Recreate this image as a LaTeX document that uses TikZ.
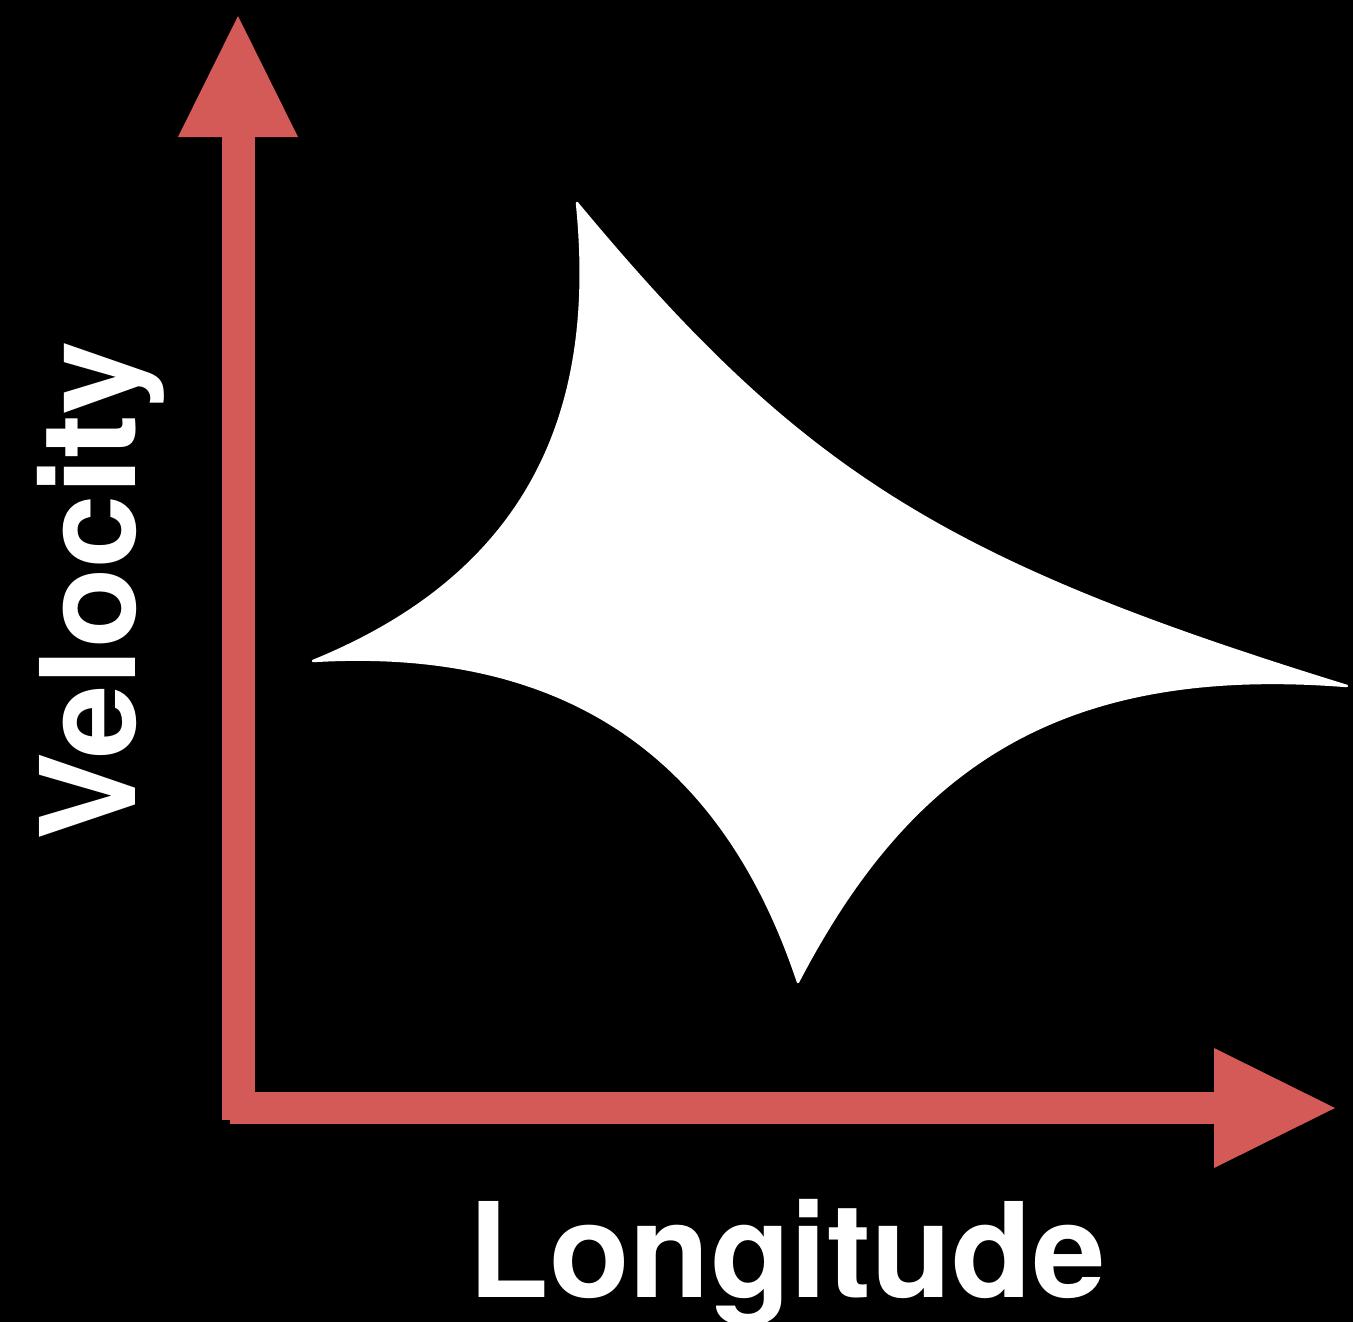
\documentclass[tikz,border=0pt]{standalone}
\usepackage{fontspec}
\setmainfont{TeX Gyre Heros}
\usepackage{tikz}
\definecolor{axisred}{RGB}{211,90,86}

\begin{document}
\begin{tikzpicture}[
  x=0.02cm, y=-0.02cm,
  bar/.style={fill=axisred},
  head/.style={fill=axisred},
  blob/.style={fill=white, draw=white, line width=0.05cm, line join=round},
  lbl/.style={text=white, inner sep=0pt, font=\fontsize{75}{90}\selectfont\bfseries}
]
  \fill[black] (0,0) rectangle (1353,1322);
  \useasboundingbox (0,0) rectangle (1353,1322);

  % axes
  \coordinate (ytip) at (238,16);
  \coordinate (xtip) at (1335,1108);
  \fill[bar] (222,137) rectangle (255,1120);
  \fill[bar] (230,1092) rectangle (1215,1124);
  \fill[head] (ytip) -- (178,137) -- (298,137) -- cycle;
  \fill[head] (xtip) -- (1214,1048) -- (1214,1168) -- cycle;

  % star
  \coordinate (top) at (577,203);
  \coordinate (left) at (313,661);
  \coordinate (bottom) at (798,982);
  \coordinate (right) at (1347,686);
  \fill[blob] (top) .. controls (595,380) and (554,563) .. (left)
    .. controls (563,646) and (722,754) .. (bottom)
    .. controls (909,769) and (1058,663) .. (right)
    .. controls (945,562) and (801,473) .. (top) -- cycle;

  % labels
  \node[lbl, anchor=base] (xlabel) at (787,1297) {Longitude};
  \node[lbl, anchor=base, rotate=90] (ylabel) at (135,591) {Velocity};
\end{tikzpicture}
\end{document}
